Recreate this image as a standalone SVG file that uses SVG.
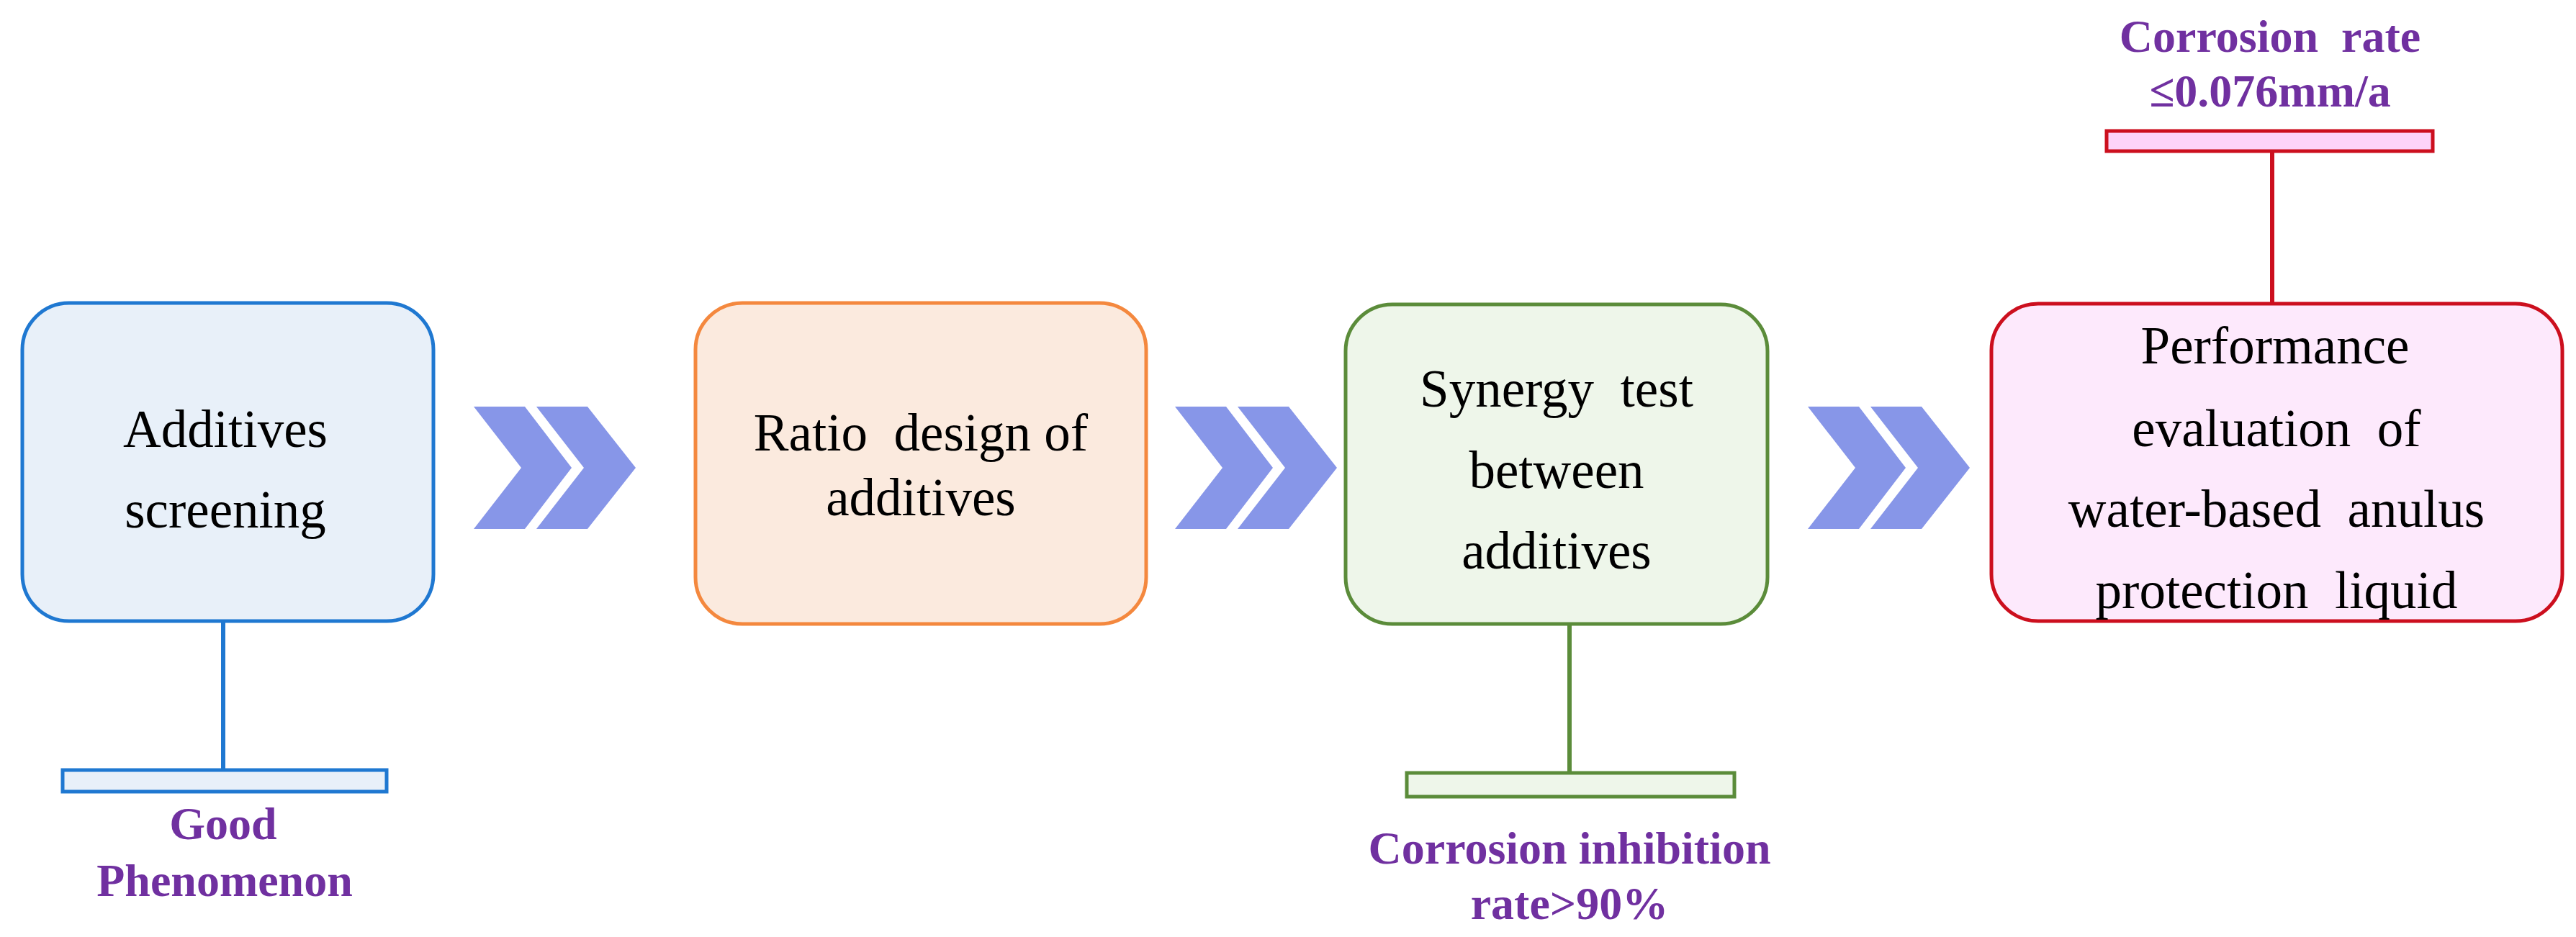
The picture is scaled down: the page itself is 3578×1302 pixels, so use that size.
<svg xmlns="http://www.w3.org/2000/svg" width="3578" height="1302" viewBox="0 0 3578 1302">
<style>
.t{font-family:"Liberation Serif","Times New Roman",serif;font-size:73px;fill:#000;text-anchor:middle}
.p{font-family:"Liberation Serif","Times New Roman",serif;font-size:64px;font-weight:bold;fill:#7030a0;text-anchor:middle}
.chev{fill:#8796e8}
.sw{stroke-width:5}
</style>
<defs>
<path id="chev" d="M0,0 L71,0 L136,85 L71,170 L0,170 L66,85 Z M87,0 L158,0 L225,85 L158,170 L87,170 L153,85 Z"/>
</defs>
<rect x="0" y="0" width="3578" height="1302" fill="#fff"/>
<g id="connectors">
<line x1="310" y1="863" x2="310" y2="1070" stroke="#1f78d1" stroke-width="6"/>
<line x1="2180" y1="867" x2="2180" y2="1074" stroke="#5b8c3a" stroke-width="6"/>
<line x1="3156" y1="421" x2="3156" y2="210" stroke="#cc0f1e" stroke-width="6"/>
<use href="#chev" class="chev" x="658" y="565"/>
<use href="#chev" class="chev" x="1632" y="565"/>
<use href="#chev" class="chev" x="2511" y="565"/>
</g>
<g id="node-screening">
<rect x="31" y="421" width="571" height="442" rx="65" fill="#e8f0f9" stroke="#1f78d1" class="sw"/>
<text class="t" x="313" y="621">Additives</text>
<text class="t" x="313" y="733">screening</text>
</g>
<g id="label-good">
<rect x="87" y="1070" width="450" height="30" fill="#e8f0f9" stroke="#1f78d1" class="sw"/>
<text class="p" x="310" y="1166">Good</text>
<text class="p" x="312" y="1245">Phenomenon</text>
</g>
<g id="node-ratio">
<rect x="966" y="421" width="626" height="446" rx="65" fill="#fbeade" stroke="#f4883e" class="sw"/>
<text class="t" x="1279" y="626" xml:space="preserve">Ratio  design of</text>
<text class="t" x="1279" y="716">additives</text>
</g>
<g id="node-synergy">
<rect x="1869" y="423" width="586" height="444" rx="65" fill="#eef6ea" stroke="#5b8c3a" class="sw"/>
<text class="t" x="2162" y="565" xml:space="preserve">Synergy  test</text>
<text class="t" x="2162" y="678">between</text>
<text class="t" x="2162" y="790">additives</text>
</g>
<g id="label-inhibition">
<rect x="1954" y="1074" width="455" height="33" fill="#eef6ea" stroke="#5b8c3a" class="sw"/>
<text class="p" x="2180" y="1200">Corrosion inhibition</text>
<text class="p" x="2180" y="1277">rate&gt;90%</text>
</g>
<g id="node-performance">
<rect x="2766" y="422" width="793" height="441" rx="65" fill="#fde9fc" stroke="#cc0f1e" class="sw"/>
<text class="t" x="3160" y="505">Performance</text>
<text class="t" x="3162" y="620" xml:space="preserve">evaluation  of</text>
<text class="t" x="3162" y="732" xml:space="preserve">water-based  anulus</text>
<text class="t" x="3162" y="845" xml:space="preserve">protection  liquid</text>
</g>
<g id="label-rate">
<rect x="2926" y="182" width="453" height="28" fill="#fdd3f9" stroke="#cc0f1e" class="sw"/>
<text class="p" x="3153" y="72" xml:space="preserve">Corrosion  rate</text>
<text class="p" x="3153" y="148">≤0.076mm/a</text>
</g>
</svg>
